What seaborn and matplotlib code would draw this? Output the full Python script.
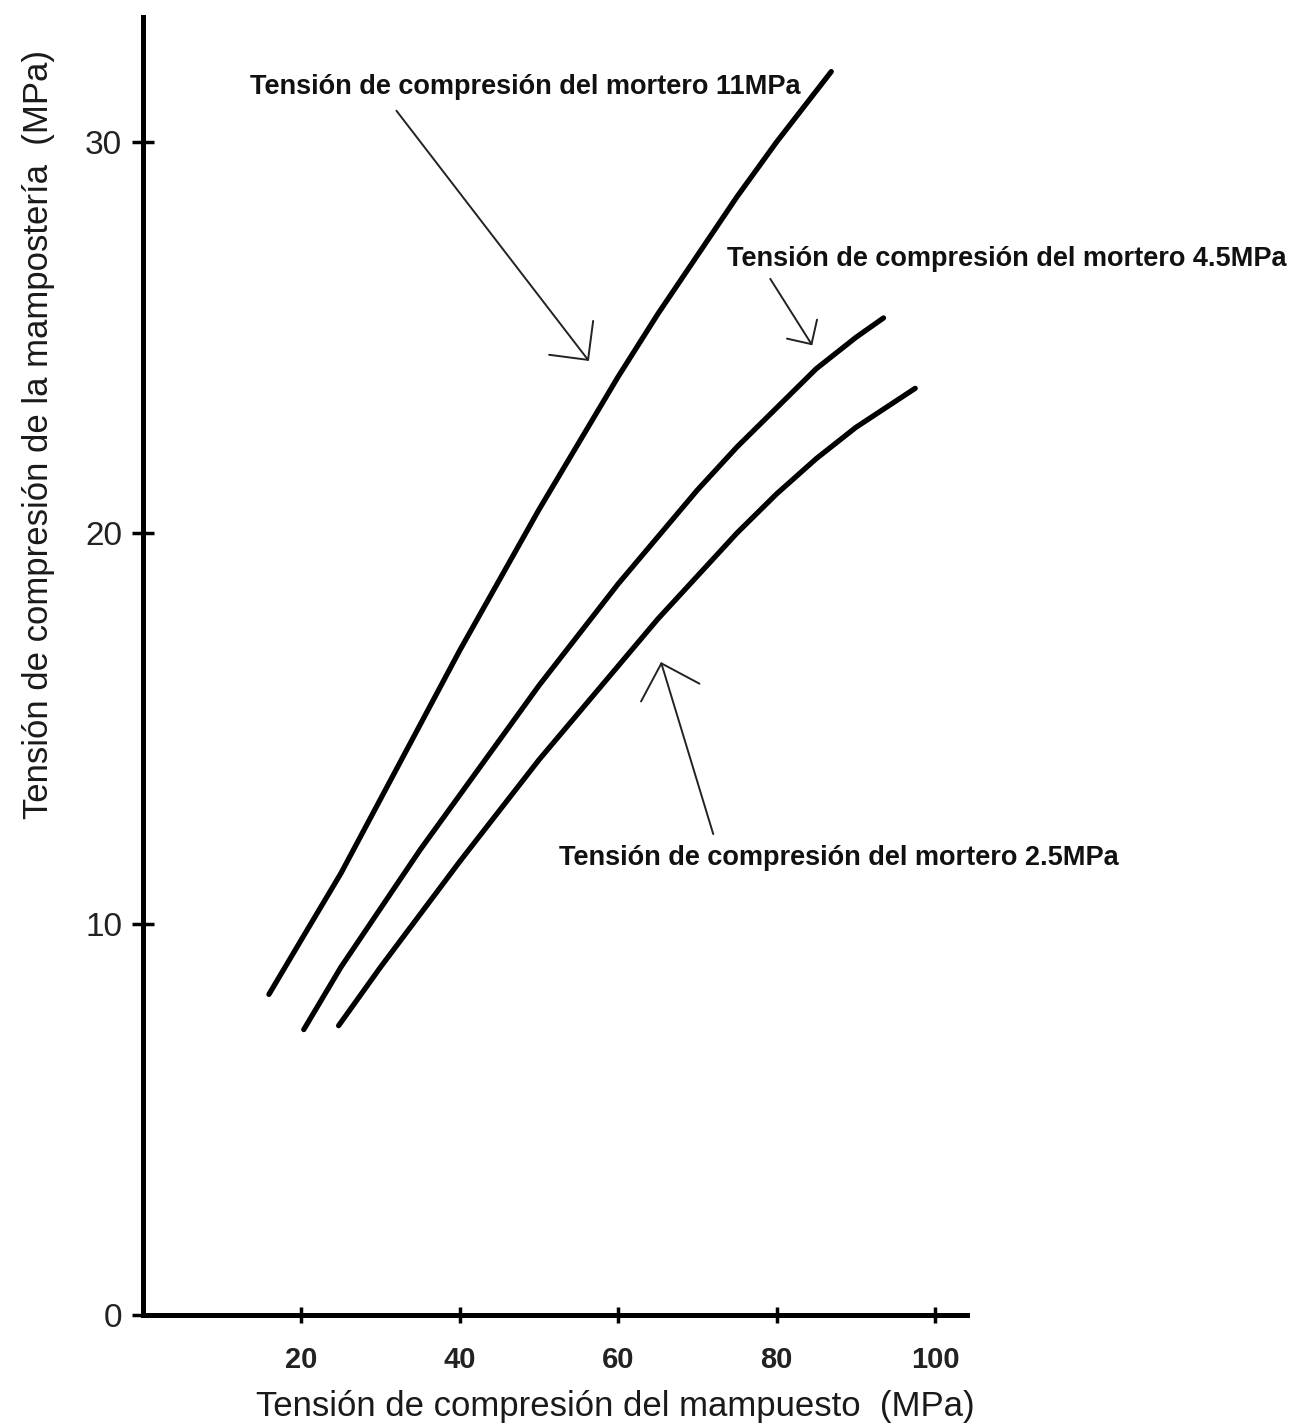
import matplotlib
matplotlib.use("Agg")
import matplotlib.pyplot as plt
import seaborn as sns
import pandas as pd

# ---- data ----
series_names = ["Tensión de compresión del mortero 11MPa",
                "Tensión de compresión del mortero 4.5MPa",
                "Tensión de compresión del mortero 2.5MPa"]

x_11 = [15.9, 20, 25, 30, 35, 40, 45, 50, 55, 60, 65, 70, 75, 80, 86.9]
y_11 = [8.2, 9.6, 11.3, 13.2, 15.1, 17.0, 18.8, 20.6, 22.3, 24.0, 25.6, 27.1, 28.6, 30.0, 31.8]

x_45 = [20.3, 25, 30, 35, 40, 45, 50, 55, 60, 65, 70, 75, 80, 85, 90, 93.5]
y_45 = [7.3, 8.9, 10.4, 11.9, 13.3, 14.7, 16.1, 17.4, 18.7, 19.9, 21.1, 22.2, 23.2, 24.2, 25.0, 25.5]

x_25 = [24.7, 30, 35, 40, 45, 50, 55, 60, 65, 70, 75, 80, 85, 90, 97.5]
y_25 = [7.4, 8.9, 10.25, 11.6, 12.9, 14.2, 15.4, 16.6, 17.8, 18.9, 20.0, 21.0, 21.9, 22.7, 23.7]

x_ticks = [20, 40, 60, 80, 100]
y_ticks = [0, 10, 20, 30]

x_label = "Tensión de compresión del mampuesto  (MPa)"
y_label = "Tensión de compresión de la mampostería  (MPa)"

df = pd.concat([
    pd.DataFrame({"x": x_11, "y": y_11, "serie": series_names[0]}),
    pd.DataFrame({"x": x_45, "y": y_45, "serie": series_names[1]}),
    pd.DataFrame({"x": x_25, "y": y_25, "serie": series_names[2]}),
], ignore_index=True)

sns.set_theme(style="white")
plt.rcParams["font.family"] = ["Liberation Sans", "DejaVu Sans"]

W, H = 1297, 1427
fig = plt.figure(figsize=(W / 100, H / 100), dpi=100)
fig.patch.set_facecolor("white")
px_x, px_y = 7.92, 39.1
ax = fig.add_axes([143 / W, 112 / H, 104 * px_x / W, 33.2 * px_y / H])
ax.set_facecolor("white")

sns.lineplot(data=df, x="x", y="y", hue="serie", palette=["black"] * 3,
             linewidth=3.8, legend=False, ax=ax, estimator=None, sort=False,
             solid_capstyle="round", solid_joinstyle="round")

ax.set_xlim(0, 104)
ax.set_ylim(0, 33.2)
ax.set_xticks(x_ticks)
ax.set_yticks(y_ticks)
ax.set_xticklabels([str(v) for v in x_ticks], fontsize=21, fontweight="bold", color="#222222")
ax.set_yticklabels([str(v) for v in y_ticks], fontsize=24, color="#222222")

for s in ["top", "right"]:
    ax.spines[s].set_visible(False)
for s in ["left", "bottom"]:
    ax.spines[s].set_linewidth(3.6)
    ax.spines[s].set_color("black")

ax.tick_params(axis="y", direction="inout", length=16, width=2.5, pad=7, color="black", left=True)
ax.tick_params(axis="x", direction="inout", length=12, width=2.5, pad=16, color="black", bottom=True)

ax.set_xlabel(x_label, fontsize=25, color="#1a1a1a")
ax.set_ylabel(y_label, fontsize=25, color="#1a1a1a")
ax.xaxis.set_label_coords(0.573, -0.0578)
ax.yaxis.set_label_coords(-0.107, 0.678)

# annotations: text position, arrow tail, arrow tip, head scale
ann = [
    (series_names[0], (13.5, 31.4), (32.0, 30.8), (56.3, 24.4), 50),
    (series_names[1], (73.8, 27.0), (79.2, 26.5), (84.5, 24.8), 32),
    (series_names[2], (52.5, 11.7), (72.0, 12.3), (65.4, 16.7), 55),
]
for label, tpos, tail, tip, ms in ann:
    ax.text(tpos[0], tpos[1], label, fontsize=19.5, fontweight="bold",
            ha="left", va="center", color="#111111")
    ax.annotate("", xy=tip, xytext=tail,
                arrowprops=dict(arrowstyle="->,head_length=0.4,head_width=0.4",
                                lw=1.4, color="#222222", mutation_scale=ms,
                                shrinkA=0, shrinkB=0))

fig.savefig("out.png", dpi=100, facecolor="white")
